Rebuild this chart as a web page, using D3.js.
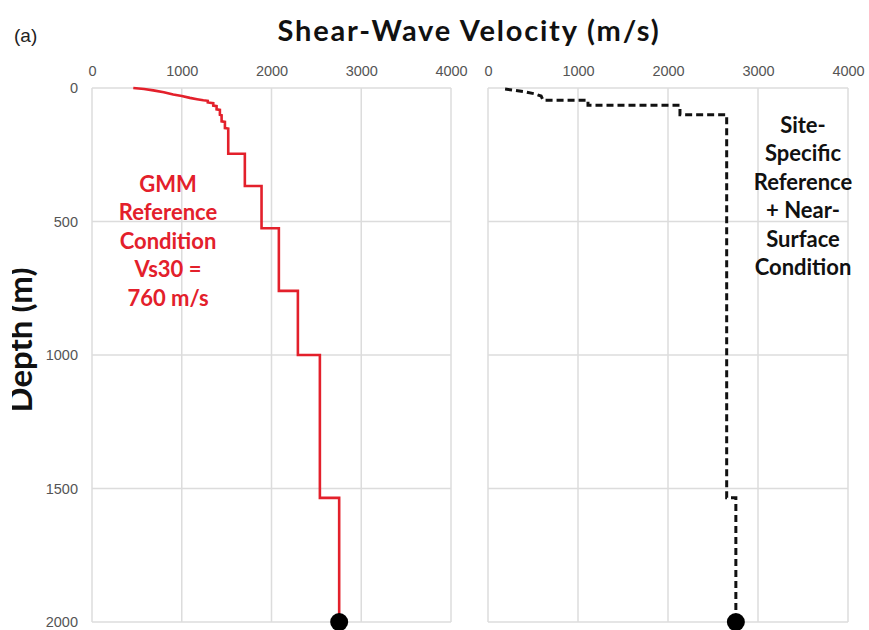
<!DOCTYPE html>
<html>
<head>
<meta charset="utf-8">
<script src="https://cdn.jsdelivr.net/npm/d3@7"></script>
<style>
  html, body { margin: 0; padding: 0; background: #ffffff; }
  svg { display: block; }
</style>
</head>
<body>
<svg id="chart" width="869" height="630"></svg>
<script>
// Axis ticks
const velocityTicks = [0, 1000, 2000, 3000, 4000];
const depthTicks = [0, 500, 1000, 1500, 2000];

// GMM reference profile (Vs30 = 760 m/s): polyline vertices, depth (m) and Vs (m/s)
const gmmDepth = [0, 4, 9, 16, 24, 30, 37, 42, 46, 48, 54, 57, 66, 68, 80, 82, 100, 102, 125, 127, 150, 152,
  246, 246, 367, 367, 525, 525, 760, 760, 1000, 1000, 1535, 1535, 2000];
const gmmVs = [460, 580, 683, 800, 905, 1000, 1091, 1170, 1240, 1290, 1290, 1351, 1351, 1388, 1388, 1425, 1425, 1444, 1444, 1481, 1481, 1518,
  1518, 1703, 1703, 1889, 1889, 2082, 2082, 2294, 2294, 2539, 2539, 2754, 2754];

// Site-specific reference + near-surface profile
const siteDepth = [4, 9, 15, 22, 30, 46, 46, 65, 65, 100, 100, 1535, 1535, 2000];
const siteVs = [190, 300, 420, 520, 590, 611, 1111, 1111, 2133, 2133, 2652, 2652, 2754, 2754];

// Half-space at the base of both profiles
const baseDepth = [2000];
const baseVs = [2754];

const gmmLabel = ["GMM", "Reference", "Condition", "Vs30 =", "760 m/s"];
const siteLabel = ["Site-", "Specific", "Reference", "+ Near-", "Surface", "Condition"];

const svg = d3.select("#chart");

const plotTop = 88, plotBottom = 622;
const y = d3.scaleLinear().domain([0, 2000]).range([plotTop, plotBottom]);

const panels = [
  { x0: 92, x1: 451, depth: gmmDepth, vs: gmmVs, color: "#e3202b", dash: null, width: 2.6 },
  { x0: 488, x1: 848, depth: siteDepth, vs: siteVs, color: "#111111", dash: "7,4", width: 3 }
];

const gridColor = "#dcdcdc";
const tickFont = "'Liberation Sans', Arial, sans-serif";
const labelFont = "Lato, 'Open Sans', sans-serif";

panels.forEach((p) => {
  const x = d3.scaleLinear().domain([0, 4000]).range([p.x0, p.x1]);
  const g = svg.append("g");

  // gridlines
  g.selectAll(".vg").data(velocityTicks).join("line")
    .attr("x1", d => x(d)).attr("x2", d => x(d))
    .attr("y1", plotTop).attr("y2", plotBottom)
    .attr("stroke", gridColor).attr("stroke-width", 1.5);
  g.selectAll(".hg").data(depthTicks).join("line")
    .attr("x1", p.x0).attr("x2", p.x1)
    .attr("y1", d => y(d)).attr("y2", d => y(d))
    .attr("stroke", gridColor).attr("stroke-width", 1.5);

  // top velocity axis (labels only)
  const xAxis = d3.axisTop(x).tickValues(velocityTicks).tickSize(0).tickPadding(0).tickFormat(d3.format("d"));
  const ax = g.append("g").attr("transform", `translate(0,${plotTop - 12})`).call(xAxis);
  ax.select(".domain").remove();
  ax.selectAll("text")
    .attr("font-family", tickFont)
    .attr("font-size", 14.5)
    .attr("fill", "#555555");

  // profile
  const line = d3.line()
    .x((d, k) => x(p.vs[k]))
    .y((d, k) => y(p.depth[k]));
  g.append("path")
    .datum(p.depth)
    .attr("d", line)
    .attr("fill", "none")
    .attr("stroke", p.color)
    .attr("stroke-width", p.width)
    .attr("stroke-linejoin", "miter")
    .attr("stroke-dasharray", p.dash);

  g.selectAll(".base").data(baseDepth).join("circle")
    .attr("cx", (d, k) => x(baseVs[k]))
    .attr("cy", d => y(d))
    .attr("r", 9)
    .attr("fill", "#000000");
});

// depth axis labels (left panel)
const yAxis = d3.axisLeft(y).tickValues(depthTicks).tickSize(0).tickPadding(0).tickFormat(d3.format("d"));
const ay = svg.append("g").attr("transform", "translate(78,0)").call(yAxis);
ay.select(".domain").remove();
ay.selectAll("text")
  .attr("font-family", tickFont)
  .attr("font-size", 14.5)
  .attr("fill", "#555555");

// title
svg.append("text")
  .attr("x", 469).attr("y", 41)
  .attr("text-anchor", "middle")
  .attr("font-family", labelFont)
  .attr("font-weight", "bold")
  .attr("font-size", 29)
  .attr("letter-spacing", 1.8)
  .attr("fill", "#111111")
  .text("Shear-Wave Velocity (m/s)");

svg.append("text")
  .attr("x", 14).attr("y", 42)
  .attr("font-family", tickFont)
  .attr("font-size", 19)
  .attr("fill", "#222222")
  .text("(a)");

// depth title, clipped at the left edge
svg.append("clipPath").attr("id", "leftclip")
  .append("rect").attr("x", 12).attr("y", 0).attr("width", 60).attr("height", 630);
svg.append("g").attr("clip-path", "url(#leftclip)")
  .append("text")
  .attr("transform", "translate(32,340) rotate(-90)")
  .attr("text-anchor", "middle")
  .attr("font-family", labelFont)
  .attr("font-weight", "bold")
  .attr("font-size", 33)
  .attr("fill", "#111111")
  .text("Depth (m)");

// annotations
svg.append("g").selectAll("text").data(gmmLabel).join("text")
  .attr("x", 168)
  .attr("y", (d, k) => 192 + k * 28.4)
  .attr("text-anchor", "middle")
  .attr("font-family", labelFont)
  .attr("font-weight", "bold")
  .attr("font-size", 22)
  .attr("fill", "#e3202b")
  .text(d => d);

svg.append("g").selectAll("text").data(siteLabel).join("text")
  .attr("x", 803)
  .attr("y", (d, k) => 133 + k * 28.4)
  .attr("text-anchor", "middle")
  .attr("font-family", labelFont)
  .attr("font-weight", "bold")
  .attr("font-size", 22)
  .attr("fill", "#111111")
  .text(d => d);
</script>
</body>
</html>
